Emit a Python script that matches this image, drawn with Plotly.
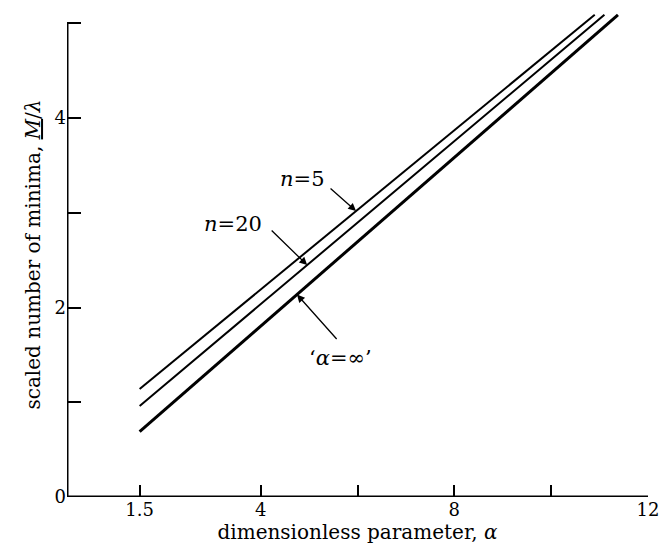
import numpy as np
import plotly.graph_objects as go

# ---- data ----
n5_x = [1.5, 10.9]
n5_y = [1.14, 5.09]
n20_x = [1.5, 11.1]
n20_y = [0.96, 5.09]
inf_x = [1.5, 11.38]
inf_y = [0.69, 5.09]

x_tickvals = [1.5, 4, 6, 8, 10, 12]
x_ticktext = ["1.5", "4", "", "8", "", "12"]
y_tickvals = [0, 1, 2, 3, 4, 5]
y_ticktext = ["0", "", "2", "", "4", ""]

FONT = "DejaVu Serif"

fig = go.Figure()
fig.add_trace(go.Scatter(x=n5_x, y=n5_y, mode="lines",
                         line=dict(color="black", width=2), showlegend=False))
fig.add_trace(go.Scatter(x=n20_x, y=n20_y, mode="lines",
                         line=dict(color="black", width=2), showlegend=False))
fig.add_trace(go.Scatter(x=inf_x, y=inf_y, mode="lines",
                         line=dict(color="black", width=3), showlegend=False))

# axis lines (axis ends at 12 and 5)
fig.add_shape(type="line", xref="x", yref="y", x0=0, y0=0, x1=12, y1=0,
              line=dict(color="black", width=3))
fig.add_shape(type="line", xref="x", yref="y", x0=0, y0=0, x1=0, y1=5,
              line=dict(color="black", width=3))

# arrows pointing to lines
def arrow(xs, ys, xa, ax, ay):
    ya = float(np.interp(xa, xs, ys))
    fig.add_annotation(x=xa, y=ya, xref="x", yref="y", text="", showarrow=True,
                       ax=ax, ay=ay, arrowhead=2, arrowsize=1.2, arrowwidth=1.3,
                       arrowcolor="black", standoff=0)

arrow(n5_x, n5_y, 5.97, -27, -24)
arrow(n20_x, n20_y, 4.96, -37, -36)
arrow(inf_x, inf_y, 4.75, 41, 46)

lab_font = dict(family=FONT, size=21, color="black")
fig.add_annotation(x=4.87, y=3.36, xref="x", yref="y", text="<i>n</i>=5",
                   showarrow=False, font=lab_font)
fig.add_annotation(x=3.43, y=2.88, xref="x", yref="y", text="<i>n</i>=20",
                   showarrow=False, font=lab_font)
fig.add_annotation(x=5.64, y=1.47, xref="x", yref="y", text="‘<i>α</i>=∞’",
                   showarrow=False, font=lab_font)

fig.update_layout(
    width=660, height=549,
    margin=dict(l=67, r=12, t=12, b=52, autoexpand=False),
    paper_bgcolor="white", plot_bgcolor="white",
    font=dict(family=FONT, color="black", size=18),
    xaxis=dict(range=[0, 12], showgrid=False, zeroline=False, showline=False,
               automargin=False,
               tickvals=x_tickvals, ticktext=x_ticktext, ticks="inside",
               ticklen=12, tickwidth=2, tickcolor="black",
               tickfont=dict(family=FONT, size=18),
               title=dict(text="dimensionless parameter, <i>α</i>",
                          font=dict(family=FONT, size=20), standoff=2)),
    yaxis=dict(range=[0, 5.12], showgrid=False, zeroline=False, showline=False,
               automargin=False,
               tickvals=y_tickvals, ticktext=y_ticktext, ticks="inside",
               ticklen=14, tickwidth=2, tickcolor="black",
               tickfont=dict(family=FONT, size=18),
               title=dict(text="scaled number of minima, <i><u>M</u></i>/<i>λ</i>",
                          font=dict(family=FONT, size=20), standoff=8)),
)

fig.write_html("out.html")
